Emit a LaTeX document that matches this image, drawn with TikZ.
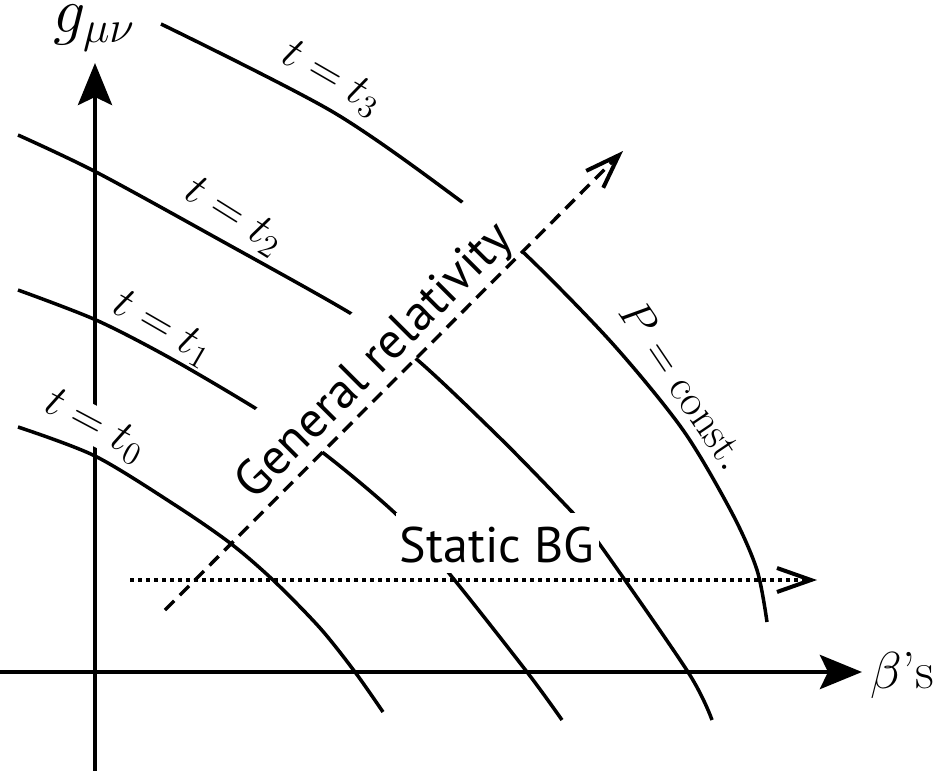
\RequirePackage{fix-cm}
\documentclass[tikz,border=0pt]{standalone}
\usepackage{fontspec}
\setsansfont{PT Sans}
\usetikzlibrary{arrows.meta}
\tikzset{
    axis/.style={line width=2.2pt, -{Stealth[length=21pt, width=17pt, inset=4pt]}},
    tcurve/.style={line width=1.75pt},
    flow/.style={line width=1.7pt, -{Straight Barb[length=17pt, width=12pt, line width=2pt]}},
    tlabel/.style={fill=white, inner sep=0.5pt, font=\fontsize{23}{28}\selectfont},
    mask/.style={fill=white, inner sep=0pt, font=\sffamily\fontsize{25}{30}\selectfont}
}

\begin{document}
\begin{tikzpicture}[x=0.5pt, y=-0.5pt]
    \useasboundingbox (0,0) rectangle (949,771);

    % axes
    \coordinate (vbot) at (95,771);
    \coordinate (vtop) at (95,63);
    \coordinate (hleft) at (0,672);
    \coordinate (hright) at (862,672);
    \draw[axis] (vbot) -- (vtop);
    \draw[axis, line width=2.4pt] (hleft) -- (hright);
    \node[inner sep=0pt] (gmn) at (94,28) {\fontsize{32}{36}\selectfont $g_{\mu\nu}$};
    \node[anchor=base west, inner sep=0pt] (beta) at (870,688) {\fontsize{26}{30}\selectfont $\beta$'s};

    % labels of the t = const. lines
    \node[tlabel, rotate=-30] (t3) at (332,79) {$t=t_3$};
    \node[tlabel, rotate=-32] (t2) at (234,217) {$t=t_2$};
    \node[tlabel, rotate=-30] (t1) at (163,329) {$t=t_1$};
    \node[tlabel, rotate=-28] (t0) at (95,426) {$t=t_0$};
    \node[tlabel, rotate=-56, font=\fontsize{22}{26}\selectfont] (pc) at (684,385) {$P=\mathrm{const.}$};

    % t = const. lines
    \draw[tcurve] plot[smooth] coordinates {(18,427) (95,456) (175,505) (230,543) (273,580) (320,628) (355,672) (383,712)};
    \draw[tcurve] plot[smooth] coordinates {(18,290) (96,320) (170,358) (255,408) (322,452) (397,515) (448,572) (527,672) (562,720)};
    \draw[tcurve] plot[smooth] coordinates {(18,135) (96,172) (220,240) (350,313) (414,357) (500,438) (573,513) (598,542) (688,672) (712,720)};
    \draw[tcurve] plot[smooth] coordinates {(161,24) (333,112) (462,202) (524,253) (612,343) (683,430) (732,513) (757,570) (767,622)};

    % general relativity and static background
    \coordinate (grfoot) at (165,610);
    \coordinate (grhead) at (623,151);
    \path (grfoot) -- (grhead) node[mask, pos=0.5, sloped, anchor=south, text height=32pt, text depth=6.5pt, minimum width=205pt] (gr) {General relativity};
    \node[mask, anchor=base, text height=24.5pt, text depth=5.5pt, minimum width=101.5pt] (static) at (497,562) {Static BG};
    \draw[flow, dash pattern=on 6.5pt off 4pt] (grfoot) -- (grhead);
    \coordinate (bgstart) at (130,580);
    \coordinate (bgend) at (817,580);
    \draw[flow, line width=2pt, dash pattern=on 2pt off 2pt] (bgstart) -- (bgend);
\end{tikzpicture}
\end{document}
